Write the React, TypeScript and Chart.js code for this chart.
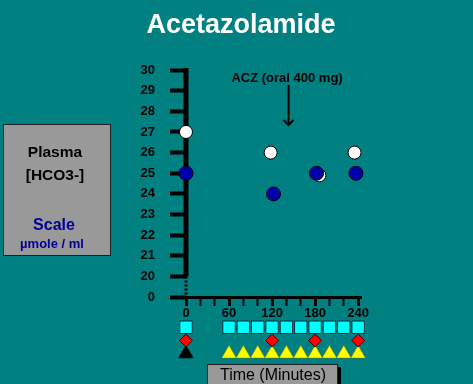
import React, { useEffect, useRef } from "react";
import { Chart, registerables } from "chart.js";

Chart.register(...registerables);

// ---- text ----
const chartTitle = "Acetazolamide";
const panelLines = ["Plasma", "[HCO3-]"];
const scaleLines = ["Scale", "µmole / ml"];
const xAxisTitle = "Time (Minutes)";
const doseLabel = "ACZ (oral 400 mg)";
const doseTime = 143;

// ---- ticks ----
const yTickValues = [19, 20, 21, 22, 23, 24, 25, 26, 27, 28, 29, 30];
const yTickLabels = ["0", "20", "21", "22", "23", "24", "25", "26", "27", "28", "29", "30"];
const xTickValues = [0, 20, 40, 60, 80, 100, 120, 140, 160, 180, 200, 220, 240];
const xTickLabels = ["0", "", "", "60", "", "", "120", "", "", "180", "", "", "240"];

// ---- series (plasma HCO3-) ----
const whiteTimes = [0, 118, 186, 235];
const whiteValues = [27, 26, 24.9, 26];
const blueTimes = [0, 122, 182, 237];
const blueValues = [25, 24, 25, 25];

// ---- sampling markers below the time axis ----
const squareTimes = [0, 60, 80, 100, 120, 140, 160, 180, 200, 220, 240];
const diamondTimes = [0, 120, 180, 240];
const yellowTriangleTimes = [60, 80, 100, 120, 140, 160, 180, 200, 220, 240];
const blackTriangleTimes = [0];
const laneSquares = 2;
const laneDiamonds = 1;
const laneTriangles = 0;

const FONT = '"Liberation Sans", Arial, Helvetica, sans-serif';

const decor = {
  id: "decor",
  beforeDraw(chart: any) {
    const ctx = chart.ctx;
    ctx.save();
    ctx.fillStyle = "#008080";
    ctx.fillRect(0, 0, chart.width, chart.height);

    ctx.fillStyle = "#ffffff";
    ctx.font = `bold 27px ${FONT}`;
    ctx.textAlign = "center";
    ctx.textBaseline = "alphabetic";
    ctx.fillText(chartTitle, 241, 33);

    // left panel
    ctx.fillStyle = "#999999";
    ctx.fillRect(3, 124, 108, 132);
    ctx.strokeStyle = "#202020";
    ctx.lineWidth = 1;
    ctx.strokeRect(3.5, 124.5, 107, 131);

    ctx.fillStyle = "#000000";
    ctx.font = `bold 15.5px ${FONT}`;
    ctx.fillText(panelLines[0], 55, 157);
    ctx.fillText(panelLines[1], 55, 180);
    ctx.fillStyle = "#000099";
    ctx.font = `bold 16px ${FONT}`;
    ctx.fillText(scaleLines[0], 54, 230);
    ctx.font = `bold 13px ${FONT}`;
    ctx.fillText(scaleLines[1], 52, 248);
    ctx.restore();
  },
  beforeDatasetsDraw(chart: any) {
    const { ctx, scales } = chart;
    const x = scales.x;
    const y = scales.y;
    const px = x.getPixelForValue(0);
    ctx.save();
    ctx.strokeStyle = "#000000";
    ctx.lineWidth = 5;
    ctx.beginPath();
    ctx.moveTo(px, y.getPixelForValue(30) - 2);
    ctx.lineTo(px, y.getPixelForValue(20));
    ctx.stroke();
    ctx.lineWidth = 3;
    ctx.setLineDash([2, 2]);
    ctx.beginPath();
    ctx.moveTo(px, y.getPixelForValue(20));
    ctx.lineTo(px, y.getPixelForValue(19));
    ctx.stroke();
    ctx.restore();
  },
  afterDatasetsDraw(chart: any) {
    const { ctx, scales } = chart;
    const ax = scales.x.getPixelForValue(doseTime);
    ctx.save();
    ctx.fillStyle = "#000000";
    ctx.font = `bold 13px ${FONT}`;
    ctx.textAlign = "center";
    ctx.textBaseline = "alphabetic";
    ctx.fillText(doseLabel, ax - 1.5, 82);
    ctx.strokeStyle = "#000000";
    ctx.lineWidth = 2;
    ctx.beginPath();
    ctx.moveTo(ax, 85);
    ctx.lineTo(ax, 125);
    ctx.stroke();
    ctx.beginPath();
    ctx.moveTo(ax - 5, 120);
    ctx.lineTo(ax, 125);
    ctx.lineTo(ax + 5, 120);
    ctx.stroke();

    // time axis title box
    ctx.fillStyle = "#000000";
    ctx.fillRect(338, 367, 3, 17);
    ctx.fillStyle = "#999999";
    ctx.fillRect(207, 364, 131, 22);
    ctx.strokeStyle = "#202020";
    ctx.lineWidth = 1;
    ctx.strokeRect(207.5, 364.5, 130, 22);
    ctx.fillStyle = "#000000";
    ctx.font = `16px ${FONT}`;
    ctx.fillText(xAxisTitle, 273, 380);
    ctx.restore();
  },
};

export default function App() {
  const ref = useRef<HTMLCanvasElement | null>(null);

  useEffect(() => {
    if (!ref.current) return;
    const pts = (xs: number[], ys: number[]) => xs.map((t, i) => ({ x: t, y: ys[i] }));
    const lane = (xs: number[], l: number) => xs.map((t) => ({ x: t, y: l }));

    const chart = new Chart(ref.current, {
      type: "scatter",
      data: {
        datasets: [
          {
            label: "blue",
            data: pts(blueTimes, blueValues),
            backgroundColor: "#0000aa",
            borderColor: "#000000",
            borderWidth: 1,
            pointRadius: 7,
            order: 1,
            clip: false,
          } as any,
          {
            label: "white",
            data: pts(whiteTimes, whiteValues),
            backgroundColor: "#ffffff",
            borderColor: "#000000",
            borderWidth: 1,
            pointRadius: 6.5,
            order: 2,
            clip: false,
          },
          {
            label: "squares",
            data: lane(squareTimes, laneSquares),
            yAxisID: "lane",
            pointStyle: "rect",
            pointRadius: 8.8,
            backgroundColor: "#00ffff",
            borderColor: "#003040",
            borderWidth: 1,
            order: 3,
            clip: false,
          },
          {
            label: "diamonds",
            data: lane(diamondTimes, laneDiamonds),
            yAxisID: "lane",
            pointStyle: "rectRot",
            pointRadius: 6.5,
            backgroundColor: "#ff0000",
            borderColor: "#400000",
            borderWidth: 1,
            order: 3,
            clip: false,
          },
          {
            label: "yellow",
            data: lane(yellowTriangleTimes, laneTriangles),
            yAxisID: "lane",
            pointStyle: "triangle",
            pointRadius: 8.5,
            backgroundColor: "#ffff00",
            borderColor: "#807000",
            borderWidth: 0.5,
            order: 3,
            clip: false,
          },
          {
            label: "black",
            data: lane(blackTriangleTimes, laneTriangles),
            yAxisID: "lane",
            pointStyle: "triangle",
            pointRadius: 8.5,
            backgroundColor: "#000000",
            borderColor: "#000000",
            borderWidth: 0.5,
            order: 3,
            clip: false,
          },
        ],
      },
      options: {
        responsive: false,
        animation: false,
        events: [],
        layout: { padding: { top: 70, right: 112, bottom: 18, left: 0 } },
        plugins: {
          legend: { display: false },
          tooltip: { enabled: false },
          title: { display: false },
        },
        scales: {
          x: {
            type: "linear",
            min: 0,
            max: 244,
            position: { y: 19 } as any,
            afterBuildTicks: (s: any) => {
              s.ticks = xTickValues.map((v) => ({ value: v }));
            },
            border: { display: true, color: "#000000", width: 3 },
            grid: {
              display: true,
              drawOnChartArea: false,
              drawTicks: true,
              tickLength: 7,
              tickColor: "#000000",
              tickWidth: (c: any) => (c.tick && c.tick.value % 60 === 0 ? 3 : 2),
            },
            ticks: {
              autoSkip: false,
              maxRotation: 0,
              padding: 1,
              color: "#000000",
              font: { family: FONT, size: 13, weight: "bold" },
              callback: (v: any) => {
                const i = xTickValues.indexOf(Number(v));
                return i >= 0 ? xTickLabels[i] : "";
              },
            },
          },
          y: {
            type: "linear",
            min: 15.9,
            max: 30,
            position: "left",
            afterFit: (s: any) => {
              s.width = 186;
            },
            afterBuildTicks: (s: any) => {
              s.ticks = yTickValues.map((v) => ({ value: v }));
            },
            border: { display: false },
            grid: {
              display: true,
              drawOnChartArea: false,
              drawTicks: true,
              tickLength: 16,
              tickWidth: 4,
              tickColor: "#000000",
            },
            ticks: {
              autoSkip: false,
              padding: 15,
              color: "#000000",
              font: { family: FONT, size: 13, weight: "bold" },
              callback: (v: any) => {
                const i = yTickValues.indexOf(Number(v));
                return i >= 0 ? yTickLabels[i] : "";
              },
            },
          },
          lane: {
            type: "linear",
            display: false,
            min: -0.556,
            max: 21.37,
          },
        },
      },
      plugins: [decor],
    } as any);
    return () => chart.destroy();
  }, []);

  return (
    <div
      style={{
        position: "fixed",
        left: 0,
        top: 0,
        width: 473,
        height: 384,
        background: "#008080",
        overflow: "hidden",
      }}
    >
      <canvas ref={ref} width={473} height={384} style={{ display: "block" }} />
    </div>
  );
}
